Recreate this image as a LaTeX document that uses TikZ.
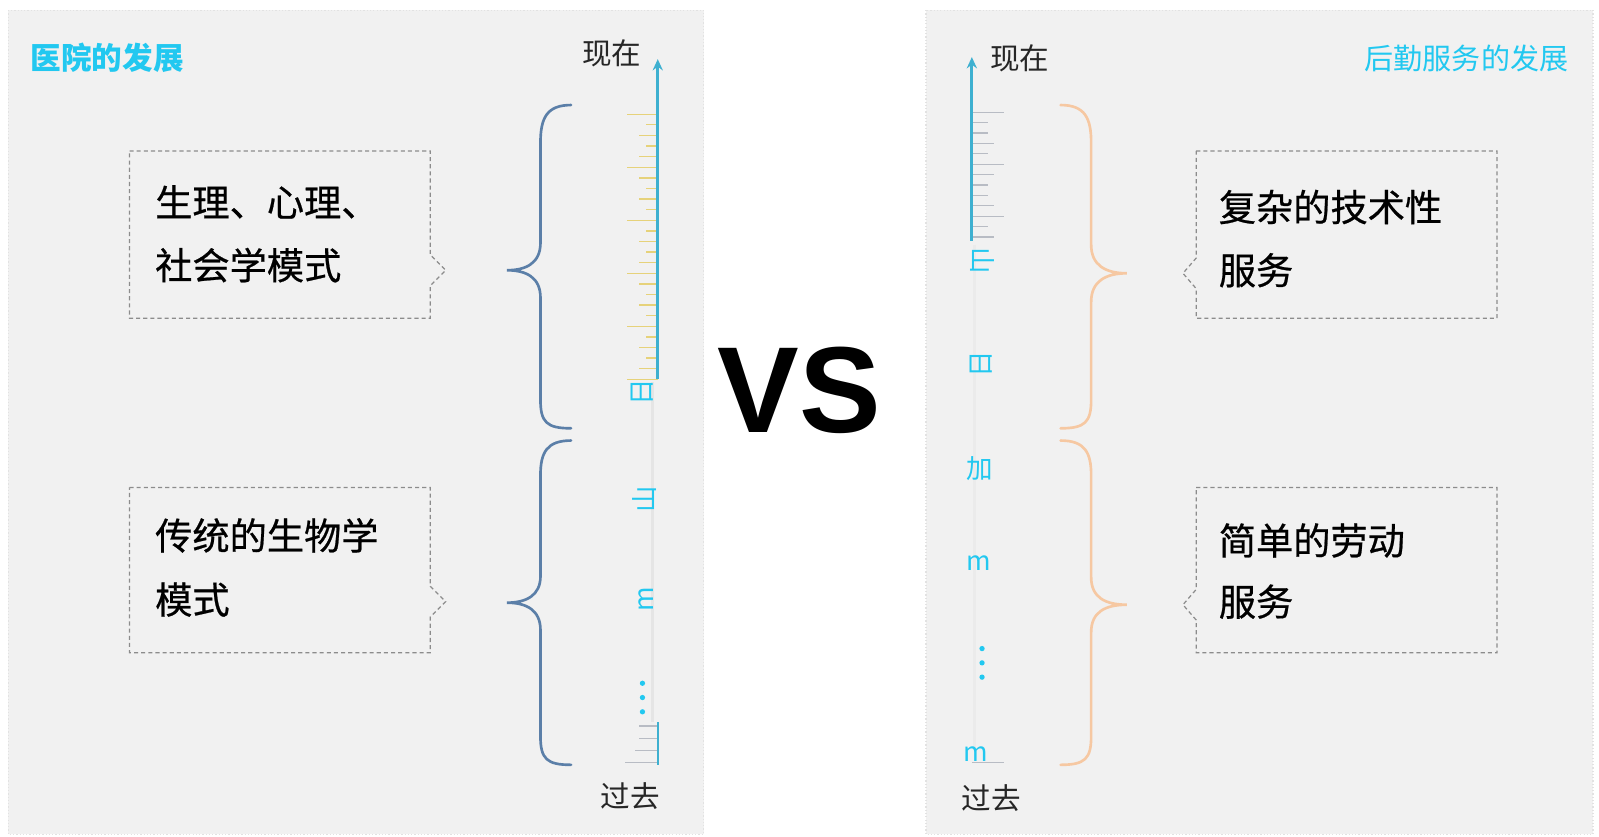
\documentclass[tikz,border=0pt]{standalone}
\usepackage{fontspec}
\newfontfamily\cjk{Noto Sans CJK SC}
\newfontfamily\cjkm{Noto Sans CJK SC}[FakeBold=0.6]
\newfontfamily\vsfont{Liberation Sans}
\usetikzlibrary{arrows.meta}
\definecolor{panelbg}{HTML}{F1F1F1}
\definecolor{paneledge}{HTML}{E2E2E2}
\definecolor{ttl}{HTML}{22C8F0}
\definecolor{axisc}{HTML}{3EB0D0}
\definecolor{lbr}{HTML}{5B7FA8}
\definecolor{rbr}{HTML}{F6C8A2}
\definecolor{ticky}{HTML}{E6D27A}
\definecolor{tickg}{HTML}{B8BCC4}
\definecolor{boxedge}{HTML}{8C8C8C}
\tikzset{
  panel/.style={fill=panelbg,draw=paneledge,line width=1.2pt,dotted},
  boxline/.style={draw=boxedge,line width=1.2pt,dash pattern=on 4pt off 3pt},
  boxtext/.style={anchor=west,inner sep=0pt,font=\cjkm\fontsize{36.5}{36.5}\selectfont,text=black},
  title/.style={inner sep=0pt,text=ttl,font=\cjk\fontsize{28.5}{28.5}\selectfont},
  timetext/.style={inner sep=0pt,text=black!85,font=\cjk\fontsize{29}{29}\selectfont},
  glyph/.style={inner sep=0pt,text=ttl,font=\cjk\fontsize{26}{26}\selectfont},
  lbrace/.style={draw=lbr,line width=2.6pt,line cap=round},
  rbrace/.style={draw=rbr,line width=2.6pt,line cap=round},
  axisline/.style={draw=axisc,line width=3pt},
}
\begin{document}
\begin{tikzpicture}[x=1pt,y=-1pt]
\useasboundingbox (0,0) rectangle (1568,820);
\fill[white] (0,0) rectangle (1568,820);
% panels
\draw[panel] (8,10) rectangle (690,818);
\draw[panel] (908,10) rectangle (1562,818);

% titles
\node[title,anchor=west,font=\cjk\bfseries\fontsize{30}{30}\selectfont] (ltitle) at (30,57) {医院的发展};
\node[title,anchor=east] (rtitle) at (1538,57) {后勤服务的发展};

% ---------------- left side -----------------
\draw[boxline] (127,148) -- (422,148) -- (422,250) -- (437,265) -- (422,280) -- (422,312) -- (127,312) -- cycle;
\draw[boxline] (127,478) -- (422,478) -- (422,575) -- (437,590) -- (422,605) -- (422,640) -- (127,640) -- cycle;
\node[boxtext] (l1a) at (152,198) {生理、心理、};
\node[boxtext] (l1b) at (152,260) {社会学模式};
\node[boxtext] (l2a) at (152,525) {传统的生物学};
\node[boxtext] (l2b) at (152,588) {模式};

% left braces
\draw[lbrace] (560,103) .. controls (536,103) and (530,116) .. (530,140) -- (530,238)
  .. controls (530,258) and (516,265) .. (497,265)
  .. controls (516,265) and (530,272) .. (530,292) -- (530,392)
  .. controls (530,414) and (536,420) .. (560,420);
\draw[lbrace] (560,432) .. controls (536,432) and (530,444) .. (530,466) -- (530,565)
  .. controls (530,584) and (516,591) .. (497,591)
  .. controls (516,591) and (530,598) .. (530,618) -- (530,722)
  .. controls (530,744) and (536,750) .. (560,750);

% left axis
\draw[draw=black!10,line width=3pt] (640,375) -- (640,708);
\foreach \i in {0,...,25}{
  \pgfmathsetmacro{\yy}{112+\i*10.4}
  \pgfmathsetmacro{\len}{mod(\i,5)==0 ? 30 : (mod(\i,2)==0 ? 18 : 12)}
  \draw[ticky,line width=1.3pt] (645,\yy) -- ++(-\len,0);
}
\draw[axisline,-{Stealth[length=11pt,width=10pt]}] (645,372) -- (645,58);
\foreach \yy/\len in {712/18,724/18,736/22,748/32}{
  \draw[tickg,line width=1.3pt] (645,\yy) -- ++(-\len,0);
}
\draw[draw=axisc,line width=2pt] (645,708) -- (645,750);
\node[glyph,rotate=90] (lg1) at (630,385) {日};
\node[glyph,rotate=90] (lg2) at (632,490) {山};
\node[glyph,rotate=90] (lg3) at (634,588) {m};
\foreach \yy in {670,684,698}{\fill[ttl] (630,\yy) circle (2.6);}
\node[timetext] (lnow) at (600,52) {现在};
\node[timetext] (lpast) at (618,781) {过去};

% ---------------- VS -----------------
\fill[white] (707,322) rectangle (868,432);
\node[inner sep=0pt,font=\vsfont\bfseries\fontsize{120}{120}\selectfont] (vs) at (784,383) {VS};

% ---------------- right side -----------------
\draw[boxline] (1173,148) -- (1468,148) -- (1468,312) -- (1173,312) -- (1173,283) -- (1160,268) -- (1173,253) -- cycle;
\draw[boxline] (1173,478) -- (1468,478) -- (1468,640) -- (1173,640) -- (1173,608) -- (1160,593) -- (1173,578) -- cycle;
\node[boxtext] (r1a) at (1195,203) {复杂的技术性};
\node[boxtext] (r1b) at (1195,265) {服务};
\node[boxtext] (r2a) at (1195,530) {简单的劳动};
\node[boxtext] (r2b) at (1195,590) {服务};

% right braces
\draw[rbrace] (1040,103) .. controls (1064,103) and (1070,116) .. (1070,140) -- (1070,240)
  .. controls (1070,260) and (1084,268) .. (1105,268)
  .. controls (1084,268) and (1070,276) .. (1070,296) -- (1070,392)
  .. controls (1070,414) and (1064,420) .. (1040,420);
\draw[rbrace] (1040,432) .. controls (1064,432) and (1070,444) .. (1070,466) -- (1070,566)
  .. controls (1070,586) and (1084,593) .. (1105,593)
  .. controls (1084,593) and (1070,600) .. (1070,620) -- (1070,722)
  .. controls (1070,744) and (1064,750) .. (1040,750);

% right axis
\draw[draw=black!8,line width=3pt] (956,240) -- (956,735);
\foreach \i in {0,...,12}{
  \pgfmathsetmacro{\yy}{110+\i*10.2}
  \pgfmathsetmacro{\len}{mod(\i,5)==0 ? 32 : (mod(\i,3)==0 ? 22 : 16)}
  \draw[tickg,line width=1.3pt] (953,\yy) -- ++(\len,0);
}
\draw[axisline,-{Stealth[length=11pt,width=10pt]}] (953,236) -- (953,56);
\node[glyph,rotate=-90] (rg1) at (963,256) {山};
\node[glyph,rotate=90] (rg2) at (962,357) {日};
\node[glyph] (rg3) at (961,460) {加};
\node[glyph] (rg4) at (960,552) {m};
\foreach \yy in {636,650,664}{\fill[ttl] (963,\yy) circle (2.6);}
\node[glyph] (rg5) at (957,739) {m};
\draw[tickg,line width=1.3pt] (953,748) -- (985,748);
\node[timetext] (rnow) at (1000,57) {现在};
\node[timetext] (rpast) at (972,783) {过去};
\end{tikzpicture}
\end{document}
